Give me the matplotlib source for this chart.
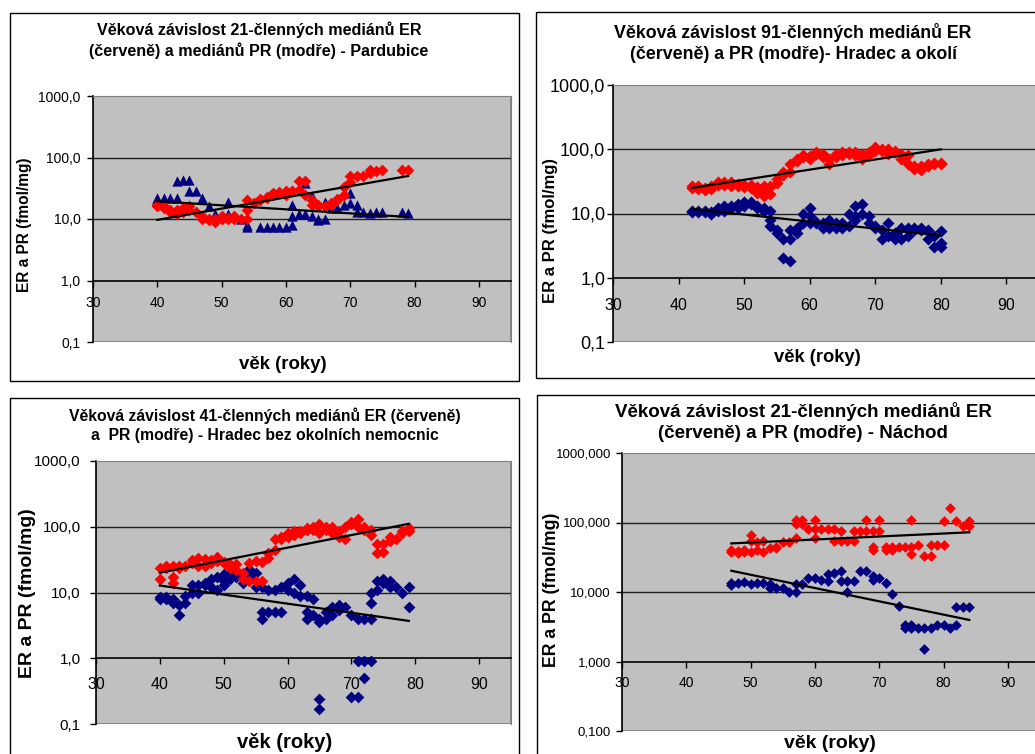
import numpy as np
import matplotlib
matplotlib.use("Agg")
import matplotlib.pyplot as plt
from matplotlib.patches import Rectangle

plt.rcParams['font.family'] = ['Liberation Sans', 'DejaVu Sans']

# ---- data: (age, value) pairs ----
pardubice_er = [(40, 16), (40, 17), (41, 16), (41, 15), (42, 14), (42, 13), (43, 12), (43, 14),
                (44, 15), (44, 13), (45, 16), (45, 14), (46, 13), (47, 10), (47, 11), (48, 10),
                (48, 9.5), (49, 9), (49, 10), (50, 10), (50, 11), (51, 10), (51, 10.5), (52, 11),
                (52, 10), (53, 10), (54, 10), (54, 14), (54, 20), (55, 18), (56, 20), (56, 21),
                (57, 22), (57, 23), (58, 25), (58, 26), (59, 26), (59, 27), (60, 25), (60, 28),
                (61, 28), (61, 29), (62, 30), (62, 41), (63, 41), (63, 25), (64, 20), (64, 17),
                (65, 17), (65, 16), (66, 16), (67, 17), (67, 18), (68, 20), (68, 21), (69, 25),
                (69, 33), (70, 40), (70, 50), (71, 50), (72, 50), (73, 55), (73, 62), (74, 60),
                (75, 62), (78, 62), (79, 62)]
pardubice_pr = [(40, 21), (40, 22), (41, 22), (42, 22), (43, 42), (43, 22), (44, 43), (45, 43),
                (45, 28), (46, 28), (47, 22), (48, 16), (49, 12), (49, 11), (50, 11), (51, 19),
                (51, 12), (52, 11), (53, 10), (54, 7.5), (54, 8), (56, 7.5), (57, 7.5), (58, 7.5),
                (59, 7.5), (60, 7.5), (61, 8), (61, 11), (61, 17), (62, 12), (63, 12), (63, 38),
                (64, 24), (64, 11), (65, 10), (65, 9.5), (66, 10), (66, 19), (67, 15), (68, 15),
                (69, 17), (70, 26), (70, 18), (71, 17), (71, 13), (72, 13), (73, 12.5), (74, 13),
                (75, 13), (78, 13), (79, 12.5)]

hradec_okoli_er = [(42, 27), (42, 25), (43, 24), (43, 27), (44, 23), (44, 25), (45, 24), (45, 27),
                   (46, 28), (46, 31), (47, 28), (47, 31), (48, 27), (48, 31), (49, 27), (49, 29),
                   (50, 28), (50, 26), (51, 28), (51, 25), (52, 26), (52, 21), (53, 19), (53, 22),
                   (53, 27), (54, 20), (54, 26), (54, 27), (55, 30), (55, 35), (56, 40), (56, 45),
                   (57, 60), (57, 45), (58, 65), (58, 70), (59, 80), (59, 75), (60, 78), (60, 70),
                   (61, 85), (61, 90), (62, 85), (62, 75), (63, 70), (63, 60), (64, 85), (64, 75),
                   (65, 80), (65, 90), (66, 90), (66, 85), (67, 90), (67, 80), (68, 70), (68, 85),
                   (69, 80), (69, 90), (70, 110), (70, 95), (71, 100), (71, 95), (72, 100), (72, 85),
                   (73, 90), (73, 95), (74, 85), (74, 70), (75, 60), (75, 80), (76, 55), (76, 50),
                   (77, 48), (77, 55), (78, 60), (78, 55), (79, 62), (79, 60), (80, 60), (80, 62)]
hradec_okoli_pr = [(42, 10.5), (42, 11), (43, 11), (43, 10.5), (44, 10.5), (44, 11), (45, 9.8),
                   (45, 10.5), (46, 11), (46, 12), (47, 11), (47, 13), (48, 13), (48, 12), (49, 14),
                   (49, 12), (50, 15), (50, 13), (51, 15), (51, 14), (52, 13), (52, 12), (53, 12),
                   (53, 11), (54, 6.5), (54, 8), (54, 11), (55, 5), (55, 5.5), (56, 4), (56, 2.0),
                   (57, 4), (57, 1.8), (57, 5.5), (58, 5), (58, 6), (59, 10), (59, 7), (60, 12),
                   (60, 7), (60, 9), (61, 7), (61, 7.5), (62, 6), (62, 7), (63, 8), (63, 6),
                   (64, 7), (64, 6), (65, 7), (65, 6), (66, 10), (66, 6.5), (67, 13), (67, 9),
                   (67, 8), (68, 14), (68, 10), (69, 9), (69, 7), (70, 6.5), (70, 6), (71, 4),
                   (71, 5.5), (72, 7), (72, 4.5), (73, 5), (73, 4), (74, 6), (74, 4), (75, 6),
                   (75, 4.5), (76, 6), (76, 5.5), (77, 6), (77, 5.5), (78, 5.5), (78, 4), (79, 3),
                   (79, 4.5), (80, 5.3), (80, 3.0), (80, 3.5)]

hradec_er = [(40, 16), (40, 24), (41, 25), (41, 24), (42, 25), (42, 17), (42, 14), (43, 24),
             (43, 25), (44, 25), (45, 31), (45, 28), (46, 33), (46, 25), (47, 32), (47, 25),
             (48, 31), (48, 28), (49, 35), (49, 30), (50, 29), (50, 28), (51, 27), (51, 24),
             (52, 27), (52, 22), (53, 16), (53, 20), (54, 15), (54, 28), (55, 30), (55, 15),
             (56, 29), (56, 15), (57, 33), (57, 40), (58, 45), (58, 65), (59, 65), (59, 70),
             (60, 80), (60, 70), (61, 85), (61, 75), (62, 80), (62, 85), (63, 90), (63, 95),
             (64, 100), (64, 90), (65, 110), (65, 80), (66, 100), (66, 90), (67, 100), (67, 80),
             (68, 85), (68, 70), (69, 65), (69, 100), (70, 120), (70, 110), (71, 130), (71, 100),
             (72, 90), (72, 100), (73, 90), (73, 75), (74, 55), (74, 40), (75, 42), (75, 55),
             (76, 70), (76, 60), (77, 65), (78, 80), (78, 85), (79, 95), (79, 85)]
hradec_pr = [(40, 8.5), (40, 8), (41, 8.5), (41, 8), (42, 7), (42, 8), (43, 6.5), (43, 4.5),
             (44, 9), (44, 7), (45, 10), (45, 13), (46, 10), (46, 13), (47, 13), (47, 14),
             (48, 16), (48, 12), (49, 17), (49, 11), (50, 15), (50, 13), (50, 19), (51, 20),
             (51, 16), (52, 20), (52, 17), (53, 18), (53, 14), (54, 23), (54, 17), (55, 20),
             (55, 12), (56, 12), (56, 4), (56, 5), (57, 11), (57, 5), (58, 11), (58, 5),
             (59, 12), (59, 5), (60, 14), (60, 11), (61, 16), (61, 10), (62, 13), (62, 9),
             (63, 9), (63, 5), (63, 4), (64, 8), (64, 4.5), (65, 4), (65, 3.5), (65, 0.24),
             (65, 0.17), (66, 5), (66, 4), (67, 6), (67, 4.5), (68, 6.5), (68, 5.5), (69, 6),
             (70, 4.5), (70, 0.26), (71, 4), (71, 0.9), (71, 0.26), (72, 4), (72, 0.9), (72, 0.5),
             (73, 4), (73, 7), (73, 10), (73, 0.9), (74, 11), (74, 15), (75, 16), (75, 14),
             (76, 15), (76, 12), (77, 12), (78, 10), (79, 12), (79, 6)]

nachod_er = [(47, 38), (47, 40), (48, 36), (48, 39), (49, 40), (49, 38), (50, 38), (50, 67),
             (50, 55), (51, 40), (51, 52), (52, 38), (52, 54), (53, 43), (54, 43), (54, 45),
             (55, 52), (56, 52), (57, 110), (57, 95), (57, 60), (58, 110), (58, 95), (59, 80),
             (60, 110), (60, 60), (60, 80), (61, 80), (62, 80), (63, 80), (63, 55), (64, 75),
             (64, 55), (65, 55), (66, 75), (66, 55), (67, 75), (68, 110), (68, 75), (69, 75),
             (69, 45), (69, 40), (70, 110), (70, 75), (71, 40), (71, 45), (72, 40), (72, 45),
             (73, 45), (74, 45), (75, 110), (75, 35), (75, 45), (76, 48), (77, 33), (78, 33),
             (78, 48), (79, 48), (80, 48), (80, 105), (81, 160), (82, 105), (83, 88), (84, 105),
             (84, 90)]
nachod_pr = [(47, 12.5), (47, 13.5), (48, 13.5), (49, 14), (50, 13), (51, 13.5), (52, 13.5),
             (53, 11.5), (53, 13), (54, 11.5), (55, 11.5), (56, 10), (57, 10), (57, 13), (58, 13),
             (59, 16), (60, 16), (61, 15), (62, 14.5), (62, 18), (63, 19), (64, 20), (64, 14.5),
             (65, 10), (65, 14.5), (66, 14.5), (67, 20), (68, 20), (69, 15), (69, 17), (70, 16),
             (71, 13.5), (72, 9.5), (73, 6.3), (74, 3), (74, 3.3), (75, 3), (75, 3.3), (76, 3),
             (77, 3), (77, 1.5), (78, 3), (79, 3.3), (80, 3.3), (81, 3), (82, 3.3), (82, 6),
             (83, 6), (84, 6)]

titles = ["Věková závislost 21-členných mediánů ER\n(červeně) a mediánů PR (modře) - Pardubice",
          "Věková závislost 91-členných mediánů ER\n(červeně) a PR (modře)- Hradec a okolí",
          "Věková závislost 41-členných mediánů ER (červeně)\na  PR (modře) - Hradec bez okolních nemocnic",
          "Věková závislost 21-členných mediánů ER\n(červeně) a PR (modře) - Náchod"]
y_ticks = [0.1, 1, 10, 100, 1000]
y_labels_1dec = ["0,1", "1,0", "10,0", "100,0", "1000,0"]
y_labels_3dec = ["0,100", "1,000", "10,000", "100,000", "1000,000"]
x_ticks = [30, 40, 50, 60, 70, 80, 90]

W, H = 1035, 754
fig = plt.figure(figsize=(W / 100, H / 100), dpi=100)


def px(x0, y0, x1, y1):
    # pixel box -> figure fraction [left, bottom, width, height]
    return [x0 / W, 1 - y1 / H, (x1 - x0) / W, (y1 - y0) / H]


def panel(frame, box, er, pr, pr_marker, ms, title, tpos, tsize, ylab, ysize, xlab, xsize,
          ticklabels, ytsize, xtsize, xpad, ypad):
    fig.add_artist(Rectangle((frame[0] / W, 1 - frame[3] / H), (frame[2] - frame[0]) / W,
                             (frame[3] - frame[1]) / H, transform=fig.transFigure,
                             fill=False, edgecolor="black", lw=1.0))
    ax = fig.add_axes(px(*box))
    ax.set_facecolor("#c0c0c0")
    ax.set_yscale("log")
    ax.set_ylim(0.1, 1000)
    ax.set_xlim(30, 95)
    for y in [10, 100]:
        ax.axhline(y, color="#202020", lw=1.0, zorder=1)
    ea, ev = np.array(er, dtype=float).T
    pa, pv = np.array(pr, dtype=float).T
    ax.scatter(pa, pv, marker=pr_marker, s=ms[1], color="#000080", linewidths=0, zorder=3)
    ax.scatter(ea, ev, marker="D", s=ms[0], color="#ff0000", linewidths=0, zorder=3)
    # exponential trend lines (straight on log axis)
    for a, v in [(ea, ev), (pa, pv)]:
        k, q = np.polyfit(a, np.log10(v), 1)
        xs = np.array([a.min(), a.max()])
        ax.plot(xs, 10 ** (k * xs + q), color="black", lw=1.6, zorder=4)
    ax.spines["bottom"].set_position(("data", 1.0))
    for s in ["top", "right"]:
        ax.spines[s].set_color("#808080")
    ax.add_patch(Rectangle((0, 0), 1, 1, transform=ax.transAxes, fill=False,
                           edgecolor="#808080", lw=1.2, zorder=0.5))
    ax.spines["left"].set_linewidth(1.2)
    ax.spines["bottom"].set_linewidth(1.2)
    ax.set_yticks(y_ticks)
    ax.set_yticklabels(ticklabels, fontsize=ytsize)
    ax.yaxis.set_minor_locator(matplotlib.ticker.NullLocator())
    ax.set_xticks(x_ticks)
    ax.set_xticklabels([str(t) for t in x_ticks], fontsize=xtsize)
    ax.tick_params(direction="out", length=4, width=1)
    ax.tick_params(axis="x", pad=xpad)
    ax.tick_params(axis="y", pad=ypad)
    fig.text(tpos[0] / W, 1 - tpos[1] / H, title, ha="center", va="center",
             fontsize=tsize, fontweight="bold", linespacing=1.35)
    fig.text(ylab[0] / W, 1 - ylab[1] / H, "ER a PR (fmol/mg)", rotation=90, ha="center",
             va="center", fontsize=ysize, fontweight="bold")
    fig.text(xlab[0] / W, 1 - xlab[1] / H, "věk (roky)", ha="center", va="center",
             fontsize=xsize, fontweight="bold")
    return ax


panel((10, 13, 519, 381), (93, 96, 511, 342), pardubice_er, pardubice_pr, "^", (36, 55),
      titles[0], (259, 40), 11.6, (25, 225), 11.2, (283, 365), 13.4, y_labels_1dec, 10, 10,
      7.2, 5)
panel((536, 12, 1040, 378), (613, 85, 1039, 342), hradec_okoli_er, hradec_okoli_pr, "D", (38, 38),
      titles[1], (793, 43), 12.8, (550, 230), 12, (817, 357), 13.2, y_labels_1dec, 13, 11.5,
      10.5, 1.5)
panel((10, 398, 519, 760), (96, 461, 511, 724), hradec_er, hradec_pr, "D", (36, 36),
      titles[2], (265, 425), 11.3, (28, 593), 14, (285, 742), 14.5, y_labels_1dec, 11, 11.5,
      9.5, 7)
panel((537, 395, 1040, 760), (622, 453, 1040, 731), nachod_er, nachod_pr, "D", (30, 30),
      titles[3], (803, 422), 13.5, (552, 590), 12.8, (830, 743), 14, y_labels_3dec, 9.5, 10,
      6.5, 4)

fig.savefig("out.png", dpi=100)
